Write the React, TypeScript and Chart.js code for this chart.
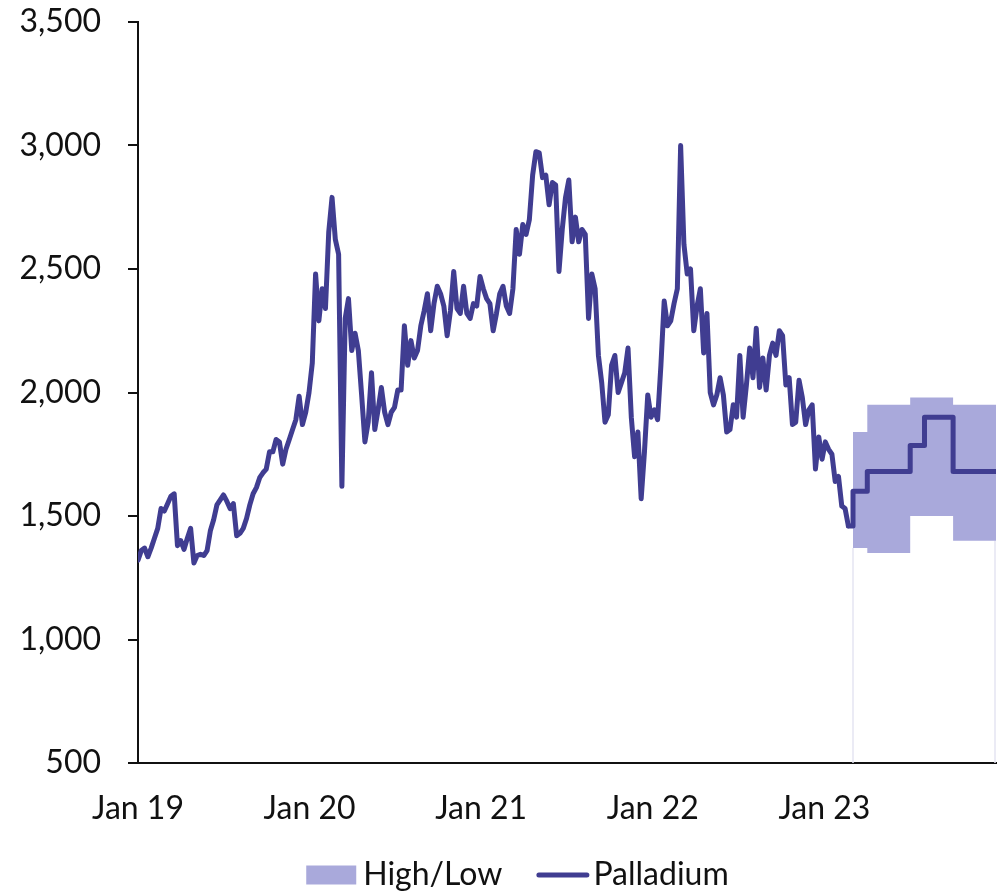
import React, { useEffect, useRef } from 'react';
import { Chart, registerables } from 'chart.js';

Chart.register(...registerables);

// ---------- data ----------
// Weekly palladium prices (USD/oz), weeks starting 1 Jan 2019
const prices2019 = [
  1321, 1360, 1370, 1335, 1370, 1410, 1450, 1530, 1520, 1550, 1580, 1590, 1380,
  1400, 1365, 1410, 1450, 1310, 1340, 1345, 1340, 1360, 1440, 1485, 1545, 1565,
  1585, 1560, 1530, 1550, 1420, 1430, 1450, 1490, 1545, 1590, 1615, 1655, 1675,
  1690, 1760, 1760, 1810, 1800, 1710, 1770, 1810, 1850, 1890, 1985, 1870, 1920,
];
const prices2020 = [
  2000, 2120, 2480, 2290, 2420, 2340, 2650, 2790, 2620, 2560, 1620, 2300, 2380,
  2170, 2240, 2170, 1990, 1800, 1880, 2080, 1850, 1930, 2020, 1920, 1870, 1920,
  1940, 2010, 2010, 2270, 2110, 2210, 2140, 2170, 2270, 2330, 2400, 2250, 2360,
  2430, 2400, 2350, 2230, 2330, 2490, 2340, 2320, 2430, 2320, 2300, 2360, 2350,
];
const prices2021 = [
  2470, 2420, 2380, 2360, 2250, 2320, 2400, 2430, 2350, 2320, 2420, 2660, 2560,
  2680, 2640, 2700, 2880, 2975, 2970, 2870, 2880, 2760, 2850, 2840, 2490, 2660,
  2790, 2860, 2610, 2710, 2610, 2660, 2640, 2300, 2480, 2420, 2150, 2040, 1880,
  1910, 2110, 2150, 2000, 2040, 2080, 2180, 1900, 1740, 1840, 1570, 1760, 1990,
];
const prices2022 = [
  1900, 1930, 1890, 2110, 2370, 2270, 2290, 2360, 2420, 3000, 2600, 2480, 2500,
  2250, 2350, 2420, 2160, 2320, 2000, 1950, 1990, 2060, 1990, 1840, 1850, 1950,
  1900, 2150, 1900, 2030, 2180, 2060, 2260, 2020, 2140, 2010, 2150, 2200, 2150,
  2250, 2230, 2030, 2060, 1870, 1880, 2050, 1980, 1870, 1930, 1950, 1690, 1820,
];
const prices2023 = [1730, 1800, 1770, 1750, 1640, 1660, 1540, 1530, 1460];

// Forecast (monthly, step)
const forecastLabels = ['Mar 23', 'Apr 23', 'May 23', 'Jun 23', 'Jul 23', 'Aug 23', 'Sep 23', 'Oct 23', 'Nov 23', 'Dec 23', 'Jan 24'];
const forecastValues = [1600, 1680, 1680, 1680, 1785, 1900, 1900, 1680, 1680, 1680, 1680];

// High / Low range (quarterly, step)
const bandLabels = ['Mar 23', 'Apr 23', 'Jul 23', 'Oct 23', 'Jan 24'];
const bandHigh = [1840, 1950, 1980, 1950, 1950];
const bandLow = [1370, 1350, 1500, 1400, 1400];

// Axes
const xTickYears = [2019, 2020, 2021, 2022, 2023];
const xTickLabels = ['Jan 19', 'Jan 20', 'Jan 21', 'Jan 22', 'Jan 23'];
const yTickValues = [500, 1000, 1500, 2000, 2500, 3000, 3500];
const legendNames = ['High/Low', 'Palladium'];

// ---------- helpers ----------
const MONTHS = ['Jan', 'Feb', 'Mar', 'Apr', 'May', 'Jun', 'Jul', 'Aug', 'Sep', 'Oct', 'Nov', 'Dec'];
const labelToX = (l: string) => {
  const [m, y] = l.split(' ');
  return 2000 + Number(y) + MONTHS.indexOf(m) / 12;
};
const SERIES_START = 2019;
const WEEK = 7 / 365.25;

const FONT = 'Lato, "Open Sans", sans-serif';
const LINE = '#403d91';
const BAND = '#a9a9db';
const INK = '#111111';

export default function App() {
  const ref = useRef<HTMLCanvasElement | null>(null);

  useEffect(() => {
    if (!ref.current) return;
    const weekly = [...prices2019, ...prices2020, ...prices2021, ...prices2022, ...prices2023];
    const actual = weekly.map((v, i) => ({ x: SERIES_START + i * WEEK, y: v }));
    const last = actual[actual.length - 1];
    const forecastPts = forecastLabels.map((l, i) => ({ x: labelToX(l), y: forecastValues[i] }));
    const forecast = [last, { x: forecastPts[0].x, y: last.y }, ...forecastPts];
    const high = bandLabels.map((l, i) => ({ x: labelToX(l), y: bandHigh[i] }));
    const low = bandLabels.map((l, i) => ({ x: labelToX(l), y: bandLow[i] }));

    const edgePlugin = {
      id: 'bandEdges',
      beforeDatasetsDraw(chart: any) {
        const { ctx, chartArea, scales } = chart;
        ctx.save();
        ctx.strokeStyle = '#e4e4f2';
        ctx.lineWidth = 1.5;
        const first = 0;
        const lastIdx = bandLabels.length - 1;
        [
          { x: labelToX(bandLabels[first]), y: bandLow[first] },
          { x: labelToX(bandLabels[lastIdx]), y: bandLow[lastIdx - 1] },
        ].forEach((p) => {
          const px = Math.min(scales.x.getPixelForValue(p.x), chartArea.right - 1);
          const py = scales.y.getPixelForValue(p.y);
          ctx.beginPath();
          ctx.moveTo(px, py);
          ctx.lineTo(px, chartArea.bottom);
          ctx.stroke();
        });
        ctx.restore();
      },
    };

    const legendPlugin = {
      id: 'customLegend',
      afterDraw(chart: any) {
        const ctx = chart.ctx;
        ctx.save();
        ctx.font = `32px ${FONT}`;
        ctx.textBaseline = 'middle';
        ctx.textAlign = 'left';
        const w1 = ctx.measureText(legendNames[0]).width;
        const w2 = ctx.measureText(legendNames[1]).width;
        const total = 50 + 7 + w1 + 34 + 53 + 4 + w2;
        let x = 517.5 - total / 2;
        const y = 875;
        ctx.fillStyle = BAND;
        ctx.fillRect(x, y - 9.5, 50, 19);
        x += 57;
        ctx.fillStyle = INK;
        ctx.fillText(legendNames[0], x, y);
        x += w1 + 34;
        ctx.strokeStyle = LINE;
        ctx.lineWidth = 5;
        ctx.lineCap = 'round';
        ctx.beginPath();
        ctx.moveTo(x + 2.5, y);
        ctx.lineTo(x + 50.5, y);
        ctx.stroke();
        x += 57;
        ctx.fillText(legendNames[1], x, y);
        ctx.restore();
      },
    };

    const chart = new Chart(ref.current, {
      type: 'line',
      data: {
        datasets: [
          {
            label: 'Palladium',
            data: actual,
            borderColor: LINE,
            borderWidth: 5,
            pointRadius: 0,
            fill: false,
            tension: 0,
            borderJoinStyle: 'round',
            borderCapStyle: 'round',
          },
          {
            label: 'Palladium forecast',
            data: forecast,
            borderColor: LINE,
            borderWidth: 5,
            pointRadius: 0,
            fill: false,
            stepped: 'before',
            borderJoinStyle: 'round',
            borderCapStyle: 'round',
          },
          {
            label: 'High/Low',
            data: high,
            borderColor: 'transparent',
            borderWidth: 0,
            pointRadius: 0,
            backgroundColor: BAND,
            fill: '+1',
            stepped: 'before',
          },
          {
            label: 'Low',
            data: low,
            borderColor: 'transparent',
            borderWidth: 0,
            pointRadius: 0,
            fill: false,
            stepped: 'before',
          },
        ],
      } as any,
      options: {
        responsive: false,
        animation: false,
        devicePixelRatio: 1,
        layout: { padding: { left: 0, top: 22, right: 11, bottom: 0 } },
        plugins: {
          legend: { display: false },
          tooltip: { enabled: false },
        },
        scales: {
          x: {
            type: 'linear',
            min: 2019,
            max: 2024,
            afterBuildTicks: (s: any) => {
              s.ticks = xTickYears.map((v) => ({ value: v }));
            },
            afterFit: (s: any) => {
              s.height = 130;
              s.paddingLeft = 0;
              s.paddingRight = 0;
            },
            grid: { display: false, drawTicks: false },
            border: { display: true, color: INK, width: 2 },
            ticks: {
              autoSkip: false,
              maxRotation: 0,
              padding: 26,
              color: INK,
              font: { family: FONT, size: 32 },
              callback: (_v: any, i: number) => xTickLabels[i],
            },
          },
          y: {
            min: 500,
            max: 3500,
            afterBuildTicks: (s: any) => {
              s.ticks = yTickValues.map((v) => ({ value: v }));
            },
            afterFit: (s: any) => {
              s.width = 138;
              s.paddingTop = 0;
              s.paddingBottom = 0;
            },
            grid: { display: true, drawOnChartArea: false, drawTicks: true, tickLength: 10, color: INK, lineWidth: 2 },
            border: { display: true, color: INK, width: 2 },
            ticks: {
              padding: 27,
              color: INK,
              font: { family: FONT, size: 32 },
              callback: (v: any) => Number(v).toLocaleString('en-US'),
            },
          },
        },
      } as any,
      plugins: [edgePlugin, legendPlugin],
    });
    return () => chart.destroy();
  }, []);

  return (
    <div style={{ position: 'absolute', left: 0, top: 0, width: 1007, height: 893, background: '#fff' }}>
      <canvas ref={ref} width={1007} height={893} style={{ display: 'block', width: 1007, height: 893 }} />
    </div>
  );
}
